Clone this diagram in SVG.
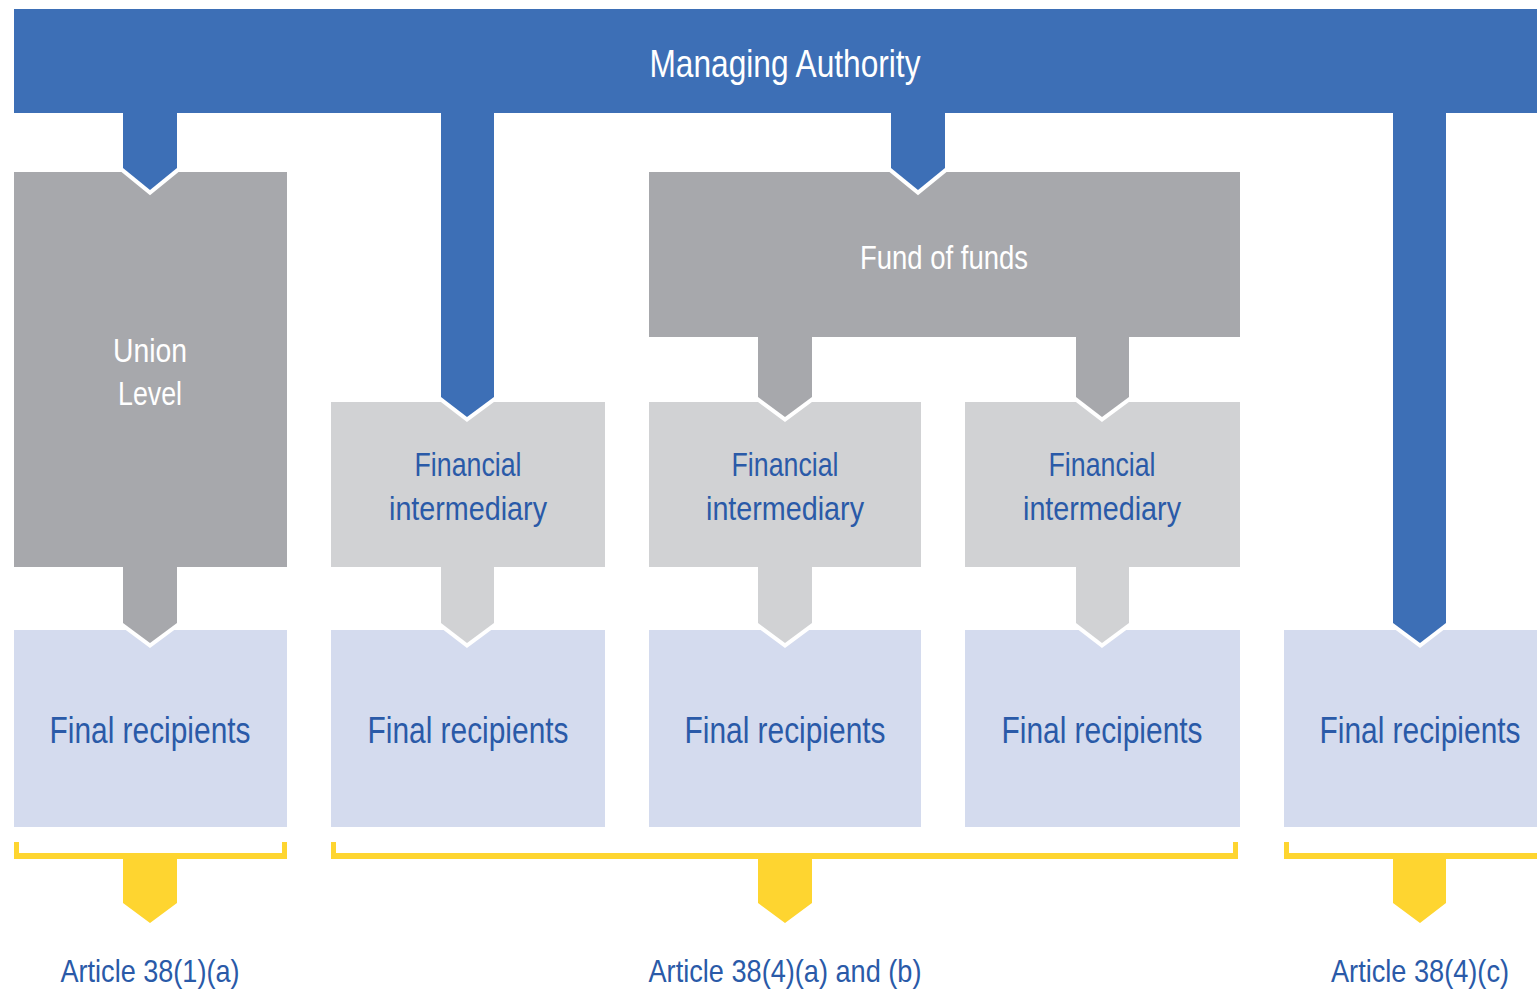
<svg xmlns="http://www.w3.org/2000/svg" width="1537" height="990" viewBox="0 0 1537 990">
<style>
.blue{fill:#3d6fb6}
.dgray{fill:#a7a8ac}
.lgray{fill:#d1d2d4}
.lblue{fill:#d4dbee}
.yel{fill:#fed530}
.gap{fill:none;stroke:#fff;stroke-width:8;stroke-linejoin:miter}
text{font-family:"Liberation Sans",Arial,sans-serif;text-anchor:middle}
.w{fill:#fff}
.t{fill:#2a5aa8}
</style>
<rect width="1537" height="990" fill="#fff"/>
<g id="managing-authority">
<rect class="blue" x="14" y="9" width="1523" height="104"/>
<text class="w" x="785" y="77" font-size="39" textLength="271" lengthAdjust="spacingAndGlyphs">Managing Authority</text>
</g>
<g id="union-level">
<rect class="dgray" x="14" y="172" width="273" height="395"/>
<text class="w" x="150" y="362" font-size="33" textLength="74" lengthAdjust="spacingAndGlyphs">Union</text>
<text class="w" x="150" y="405" font-size="33" textLength="64" lengthAdjust="spacingAndGlyphs">Level</text>
</g>
<g id="fund-of-funds">
<rect class="dgray" x="649" y="172" width="591" height="165"/>
<text class="w" x="944" y="269" font-size="33" textLength="168" lengthAdjust="spacingAndGlyphs">Fund of funds</text>
</g>
<g id="fi-1">
<rect class="lgray" x="331" y="402" width="274" height="165"/>
<text class="t" x="468" y="476" font-size="34" textLength="107" lengthAdjust="spacingAndGlyphs">Financial</text>
<text class="t" x="468" y="520" font-size="34" textLength="158" lengthAdjust="spacingAndGlyphs">intermediary</text>
</g>
<g id="fi-2">
<rect class="lgray" x="649" y="402" width="272" height="165"/>
<text class="t" x="785" y="476" font-size="34" textLength="107" lengthAdjust="spacingAndGlyphs">Financial</text>
<text class="t" x="785" y="520" font-size="34" textLength="158" lengthAdjust="spacingAndGlyphs">intermediary</text>
</g>
<g id="fi-3">
<rect class="lgray" x="965" y="402" width="275" height="165"/>
<text class="t" x="1102" y="476" font-size="34" textLength="107" lengthAdjust="spacingAndGlyphs">Financial</text>
<text class="t" x="1102" y="520" font-size="34" textLength="158" lengthAdjust="spacingAndGlyphs">intermediary</text>
</g>
<g id="fr-1">
<rect class="lblue" x="14" y="630" width="273" height="197"/>
<text class="t" x="150" y="743" font-size="36" textLength="201" lengthAdjust="spacingAndGlyphs">Final recipients</text>
</g>
<g id="fr-2">
<rect class="lblue" x="331" y="630" width="274" height="197"/>
<text class="t" x="468" y="743" font-size="36" textLength="201" lengthAdjust="spacingAndGlyphs">Final recipients</text>
</g>
<g id="fr-3">
<rect class="lblue" x="649" y="630" width="272" height="197"/>
<text class="t" x="785" y="743" font-size="36" textLength="201" lengthAdjust="spacingAndGlyphs">Final recipients</text>
</g>
<g id="fr-4">
<rect class="lblue" x="965" y="630" width="275" height="197"/>
<text class="t" x="1102" y="743" font-size="36" textLength="201" lengthAdjust="spacingAndGlyphs">Final recipients</text>
</g>
<g id="fr-5">
<rect class="lblue" x="1284" y="630" width="253" height="197"/>
<text class="t" x="1420" y="743" font-size="36" textLength="201" lengthAdjust="spacingAndGlyphs">Final recipients</text>
</g>
<g id="connectors">
<path class="gap" d="M123,160 V168 L150,190 L177,168 V160"/>
<path class="gap" d="M441,390 V397 L467,417 L494,397 V390"/>
<path class="gap" d="M891,160 V168 L918,190 L945,168 V160"/>
<path class="gap" d="M758,390 V397 L785,417 L812,397 V390"/>
<path class="gap" d="M1076,390 V397 L1102,417 L1129,397 V390"/>
<path class="gap" d="M123,615 V623 L150,643 L177,623 V615"/>
<path class="gap" d="M441,615 V623 L467,643 L494,623 V615"/>
<path class="gap" d="M758,615 V623 L785,643 L812,623 V615"/>
<path class="gap" d="M1076,615 V623 L1102,643 L1129,623 V615"/>
<path class="gap" d="M1393,615 V623 L1420,643 L1446,623 V615"/>
<polygon class="blue" points="123,110 177,110 177,168 150,190 123,168"/>
<polygon class="blue" points="441,110 494,110 494,397 467,417 441,397"/>
<polygon class="blue" points="891,110 945,110 945,168 918,190 891,168"/>
<polygon class="blue" points="1393,110 1446,110 1446,623 1420,643 1393,623"/>
<polygon class="dgray" points="758,335 812,335 812,397 785,417 758,397"/>
<polygon class="dgray" points="1076,335 1129,335 1129,397 1102,417 1076,397"/>
<polygon class="dgray" points="123,565 177,565 177,623 150,643 123,623"/>
<polygon class="lgray" points="441,565 494,565 494,623 467,643 441,623"/>
<polygon class="lgray" points="758,565 812,565 812,623 785,643 758,623"/>
<polygon class="lgray" points="1076,565 1129,565 1129,623 1102,643 1076,623"/>
</g>
<g id="bracket-1">
<path class="yel" d="M14,842 H19 V853 H282 V842 H287 V859 H177 V903 L150,923 L123,903 V859 H14 Z"/>
<text class="t" x="150" y="982" font-size="32" textLength="179" lengthAdjust="spacingAndGlyphs">Article 38(1)(a)</text>
</g>
<g id="bracket-2">
<path class="yel" d="M331,842 H336 V853 H1233 V842 H1238 V859 H812 V903 L785,923 L758,903 V859 H331 Z"/>
<text class="t" x="785" y="982" font-size="32" textLength="273" lengthAdjust="spacingAndGlyphs">Article 38(4)(a) and (b)</text>
</g>
<g id="bracket-3">
<path class="yel" d="M1284,842 H1289 V853 H1537 V859 H1446 V903 L1420,923 L1393,903 V859 H1284 Z"/>
<text class="t" x="1420" y="982" font-size="32" textLength="178" lengthAdjust="spacingAndGlyphs">Article 38(4)(c)</text>
</g>
</svg>
